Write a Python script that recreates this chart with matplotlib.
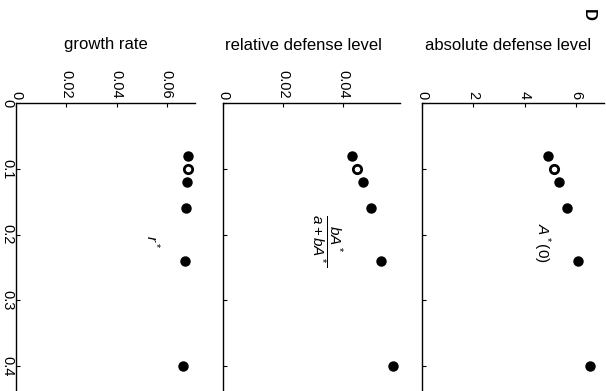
import matplotlib
matplotlib.use("Agg")
import matplotlib.pyplot as plt

plt.rcParams['font.family'] = ['Liberation Sans', 'DejaVu Sans']
plt.rcParams['mathtext.fontset'] = 'custom'
plt.rcParams['mathtext.rm'] = 'Liberation Sans'
plt.rcParams['mathtext.it'] = 'Liberation Sans:italic'

# DATA (parameter on the vertical axis, filled = solid dots, index 1 = open circle)
param = [0.08, 0.10, 0.12, 0.16, 0.24, 0.40]
growth = [0.0684, 0.0684, 0.0680, 0.0676, 0.0672, 0.0664]
relative = [0.0430, 0.0447, 0.0467, 0.0493, 0.0527, 0.0567]
absolute = [4.90, 5.14, 5.33, 5.64, 6.07, 6.54]
open_idx = 1

titles = ["growth rate", "relative defense level", "absolute defense level"]
value_ticks = [[0, 0.02, 0.04, 0.06], [0, 0.02, 0.04], [0, 2, 4, 6]]
value_ticklabels = [["0", "0.02", "0.04", "0.06"], ["0", "0.02", "0.04"], ["0", "2", "4", "6"]]
value_lims = [(0, 0.0712), (0, 0.059), (0, 7.08)]
param_ticks = [0, 0.1, 0.2, 0.3, 0.4]
param_ticklabels = ["0", "0.1", "0.2", "0.3", "0.4"]
labels = [r"$r^*$", r"$\dfrac{bA^*}{a+bA^*}$", r"$A^*(0)$"]
label_pos = [(0.0544, 0.211), (0.0347, 0.208), (4.67, 0.213)]

W, H = 606, 391
fig = plt.figure(figsize=(W / 100, H / 100), dpi=100)

# axes boxes in pixels: left, right
boxes = [(16, 195), (223, 400), (422, 604)]
title_x = [106, 303, 508]
top_px = 103

series = [growth, relative, absolute]
for i, (l, r) in enumerate(boxes):
    ax = fig.add_axes([l / W, 0, (r - l) / W, 1 - top_px / H])
    vals = series[i]
    xs = [v for j, v in enumerate(vals) if j != open_idx]
    ys = [p for j, p in enumerate(param) if j != open_idx]
    ax.plot(xs, ys, 'o', color='black', markersize=6.5, linestyle='none')
    ax.plot([vals[open_idx]], [param[open_idx]], 'o', markerfacecolor='white',
            markeredgecolor='black', markeredgewidth=2.0, markersize=6.0)
    ax.set_xlim(*value_lims[i])
    ax.set_ylim(0.438, 0)
    ax.xaxis.tick_top()
    ax.set_xticks(value_ticks[i])
    ax.set_xticklabels(value_ticklabels[i], rotation=-90, fontsize=10.5, va='bottom')
    ax.tick_params(axis='x', direction='in', length=3, width=0.8, pad=3)
    ax.set_yticks(param_ticks)
    if i == 0:
        ax.set_yticklabels(param_ticklabels, rotation=-90, fontsize=10.5, va='center')
        ax.tick_params(axis='y', direction='in', length=3, width=0.8, pad=1)
    else:
        ax.set_yticklabels([])
        ax.tick_params(axis='y', direction='in', length=3, width=0.8)
    for s in ['right', 'bottom']:
        ax.spines[s].set_visible(False)
    for s in ['left', 'top']:
        ax.spines[s].set_linewidth(1.0)
    ax.text(label_pos[i][0], label_pos[i][1], labels[i], rotation=-90,
            fontsize=11, ha='center', va='center')
    fig.text(title_x[i] / W, 1 - 45 / H, titles[i], fontsize=12,
             ha='center', va='center')

fig.text(588 / W, 1 - 15 / H, "D", fontsize=12, fontweight='bold', rotation=-90,
         ha='center', va='center')

fig.savefig("out.png", dpi=100)
